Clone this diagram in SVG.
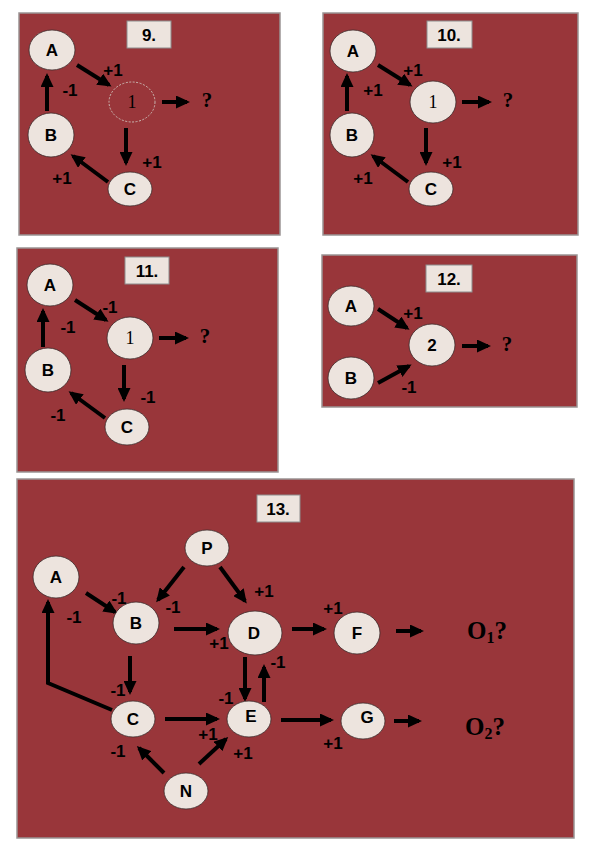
<svg xmlns="http://www.w3.org/2000/svg" width="600" height="849" viewBox="0 0 600 849">
<style>
.panel{fill:#99363a;stroke:#9a9494;stroke-width:1.5}
.tag{fill:#ede4de;stroke:#8d8d8d;stroke-width:1}
.node{fill:#ede4de;stroke:#3a2a2a;stroke-width:0.8}
.dash{fill:none;stroke:#cbb9b3;stroke-width:1;stroke-dasharray:2 1.5}
.t{font-family:"Liberation Sans",Arial,sans-serif;font-weight:bold;font-size:17px;fill:#000;text-anchor:middle}
.lb{font-family:"Liberation Sans",Arial,sans-serif;font-weight:bold;font-size:17px;fill:#000;text-anchor:middle}
.s{font-family:"Liberation Serif","Times New Roman",serif;font-size:18px;fill:#000;text-anchor:middle}
.q{font-family:"Liberation Serif","Times New Roman",serif;font-weight:bold;font-size:21px;fill:#000;text-anchor:middle}
.o{font-family:"Liberation Serif","Times New Roman",serif;font-weight:bold;font-size:25px;fill:#000}
.c{fill:none;stroke:#000;stroke-width:4;marker-end:url(#ah)}
</style>
<defs>
<marker id="ah" markerUnits="userSpaceOnUse" markerWidth="15" markerHeight="13" refX="11" refY="6.5" orient="auto">
<path d="M0,0 L14,6.5 L0,13 z" fill="#000"/>
</marker>
</defs>
<rect width="600" height="849" fill="#fff"/>
<!-- panels -->
<rect class="panel" x="19" y="13" width="261" height="222"/>
<rect class="panel" x="323" y="13" width="255" height="222"/>
<rect class="panel" x="17" y="248" width="261" height="224"/>
<rect class="panel" x="322" y="255" width="255" height="152"/>
<rect class="panel" x="17" y="479" width="557" height="359"/>
<!-- panel tags -->
<g id="tag9"><rect class="tag" x="127" y="21" width="44" height="27"/><text class="t" x="149" y="41">9.</text></g>
<g id="tag10"><rect class="tag" x="427" y="21" width="45" height="27"/><text class="t" x="449" y="41">10.</text></g>
<g id="tag11"><rect class="tag" x="125" y="257" width="44" height="27"/><text class="t" x="147" y="277">11.</text></g>
<g id="tag12"><rect class="tag" x="426" y="265" width="46" height="27"/><text class="t" x="449" y="285">12.</text></g>
<g id="tag13"><rect class="tag" x="257" y="495" width="43" height="27"/><text class="t" x="278" y="515">13.</text></g>

<g id="connectors">
<!-- panel 9 -->
<line class="c" x1="77" y1="65" x2="109" y2="85"/>
<line class="c" x1="47" y1="111" x2="47" y2="76"/>
<line class="c" x1="126" y1="128" x2="126" y2="163"/>
<line class="c" x1="108" y1="182" x2="73" y2="156"/>
<line class="c" x1="162" y1="102" x2="187" y2="102"/>
<!-- panel 10 -->
<line class="c" x1="378" y1="65" x2="410" y2="85"/>
<line class="c" x1="347" y1="111" x2="347" y2="76"/>
<line class="c" x1="426" y1="128" x2="426" y2="163"/>
<line class="c" x1="408" y1="182" x2="373" y2="156"/>
<line class="c" x1="462" y1="102" x2="489" y2="102"/>
<!-- panel 11 -->
<line class="c" x1="75" y1="300" x2="106" y2="320"/>
<line class="c" x1="43" y1="347" x2="43" y2="311"/>
<line class="c" x1="124" y1="365" x2="124" y2="399"/>
<line class="c" x1="105" y1="418" x2="71" y2="393"/>
<line class="c" x1="159" y1="338" x2="186" y2="338"/>
<!-- panel 12 -->
<line class="c" x1="378" y1="309" x2="407" y2="328"/>
<line class="c" x1="378" y1="383" x2="409" y2="366"/>
<line class="c" x1="462" y1="346" x2="488" y2="346"/>
<!-- panel 13 -->
<line class="c" x1="86" y1="593" x2="115" y2="612"/>
<line class="c" x1="184" y1="567" x2="158" y2="600"/>
<line class="c" x1="220" y1="567" x2="245" y2="601"/>
<line class="c" x1="174" y1="629" x2="217" y2="629"/>
<line class="c" x1="292" y1="629" x2="324" y2="629"/>
<line class="c" x1="396" y1="631" x2="421" y2="631"/>
<line class="c" x1="130" y1="656" x2="130" y2="692"/>
<polyline class="c" points="112,710 48,683 48,602"/>
<line class="c" x1="245" y1="657" x2="245" y2="699"/>
<line class="c" x1="264" y1="702" x2="264" y2="667"/>
<line class="c" x1="165" y1="719" x2="217" y2="719"/>
<line class="c" x1="199" y1="764" x2="226" y2="739"/>
<line class="c" x1="164" y1="773" x2="139" y2="748"/>
<line class="c" x1="281" y1="720" x2="331" y2="720"/>
<line class="c" x1="394" y1="721" x2="419" y2="721"/>
</g>

<!-- panel 9 nodes -->
<g id="p9-A"><ellipse class="node" cx="52" cy="50" rx="23" ry="20"/><text class="t" x="52" y="56">A</text></g>
<g id="p9-B"><ellipse class="node" cx="51" cy="135" rx="23" ry="22"/><text class="t" x="51" y="141">B</text></g>
<g id="p9-C"><ellipse class="node" cx="130" cy="189" rx="22" ry="17"/><text class="t" x="130" y="195">C</text></g>
<g id="p9-1"><ellipse class="dash" cx="132" cy="102" rx="23" ry="20"/><text class="s" x="132" y="108">1</text></g>
<g id="p9-q"><text class="q" x="207" y="107">?</text></g>
<!-- panel 10 nodes -->
<g id="p10-A"><ellipse class="node" cx="353" cy="51" rx="23" ry="21"/><text class="t" x="353" y="57">A</text></g>
<g id="p10-B"><ellipse class="node" cx="352" cy="135" rx="22" ry="22"/><text class="t" x="352" y="141">B</text></g>
<g id="p10-C"><ellipse class="node" cx="431" cy="189" rx="22" ry="17"/><text class="t" x="431" y="195">C</text></g>
<g id="p10-1"><ellipse class="node" cx="433" cy="102" rx="23" ry="21"/><text class="s" x="433" y="108">1</text></g>
<g id="p10-q"><text class="q" x="508" y="107">?</text></g>
<!-- panel 11 nodes -->
<g id="p11-A"><ellipse class="node" cx="50" cy="285" rx="23" ry="21"/><text class="t" x="50" y="291">A</text></g>
<g id="p11-B"><ellipse class="node" cx="48" cy="370" rx="23" ry="22"/><text class="t" x="48" y="376">B</text></g>
<g id="p11-C"><ellipse class="node" cx="127" cy="427" rx="22" ry="18"/><text class="t" x="127" y="433">C</text></g>
<g id="p11-1"><ellipse class="node" cx="130" cy="338" rx="23" ry="21"/><text class="s" x="130" y="344">1</text></g>
<g id="p11-q"><text class="q" x="205" y="343">?</text></g>
<!-- panel 12 nodes -->
<g id="p12-A"><ellipse class="node" cx="351" cy="306" rx="23" ry="20"/><text class="t" x="351" y="312">A</text></g>
<g id="p12-B"><ellipse class="node" cx="351" cy="378" rx="23" ry="21"/><text class="t" x="351" y="384">B</text></g>
<g id="p12-2"><ellipse class="node" cx="432" cy="345" rx="23" ry="21"/><text class="t" x="432" y="351">2</text></g>
<g id="p12-q"><text class="q" x="507" y="351">?</text></g>
<!-- panel 13 nodes -->
<g id="p13-P"><ellipse class="node" cx="207" cy="548" rx="22" ry="18"/><text class="t" x="207" y="554">P</text></g>
<g id="p13-A"><ellipse class="node" cx="56" cy="577" rx="23" ry="21"/><text class="t" x="56" y="583">A</text></g>
<g id="p13-B"><ellipse class="node" cx="136" cy="623" rx="23" ry="21"/><text class="t" x="136" y="629">B</text></g>
<g id="p13-D"><ellipse class="node" cx="255" cy="633" rx="27" ry="22"/><text class="t" x="254" y="639">D</text></g>
<g id="p13-F"><ellipse class="node" cx="357" cy="633" rx="23" ry="21"/><text class="t" x="357" y="639">F</text></g>
<g id="p13-C"><ellipse class="node" cx="133" cy="719" rx="22" ry="18"/><text class="t" x="133" y="725">C</text></g>
<g id="p13-E"><ellipse class="node" cx="249" cy="719" rx="22" ry="18"/><text class="t" x="251" y="722">E</text></g>
<g id="p13-N"><ellipse class="node" cx="186" cy="791" rx="22" ry="18"/><text class="t" x="186" y="797">N</text></g>
<g id="p13-G"><ellipse class="node" cx="363" cy="721" rx="22" ry="18"/><text class="t" x="367" y="723">G</text></g>
<g id="p13-O1"><text class="o" x="467" y="639">O<tspan font-size="16" dy="4">1</tspan><tspan dy="-4">?</tspan></text></g>
<g id="p13-O2"><text class="o" x="465" y="735">O<tspan font-size="16" dy="4">2</tspan><tspan dy="-4">?</tspan></text></g>

<!-- edge labels -->
<g id="labels">
<text class="lb" x="113" y="76">+1</text>
<text class="lb" x="70" y="96">-1</text>
<text class="lb" x="152" y="168">+1</text>
<text class="lb" x="62" y="184">+1</text>
<text class="lb" x="413" y="76">+1</text>
<text class="lb" x="373" y="96">+1</text>
<text class="lb" x="452" y="168">+1</text>
<text class="lb" x="363" y="184">+1</text>
<text class="lb" x="110" y="313">-1</text>
<text class="lb" x="68" y="333">-1</text>
<text class="lb" x="148" y="403">-1</text>
<text class="lb" x="58" y="421">-1</text>
<text class="lb" x="413" y="319">+1</text>
<text class="lb" x="409" y="393">-1</text>
<text class="lb" x="119" y="604">-1</text>
<text class="lb" x="74" y="623">-1</text>
<text class="lb" x="173" y="613">-1</text>
<text class="lb" x="264" y="597">+1</text>
<text class="lb" x="219" y="649">+1</text>
<text class="lb" x="333" y="614">+1</text>
<text class="lb" x="118" y="696">-1</text>
<text class="lb" x="278" y="668">-1</text>
<text class="lb" x="226" y="704">-1</text>
<text class="lb" x="208" y="740">+1</text>
<text class="lb" x="243" y="759">+1</text>
<text class="lb" x="118" y="757">-1</text>
<text class="lb" x="333" y="749">+1</text>
</g>
</svg>
